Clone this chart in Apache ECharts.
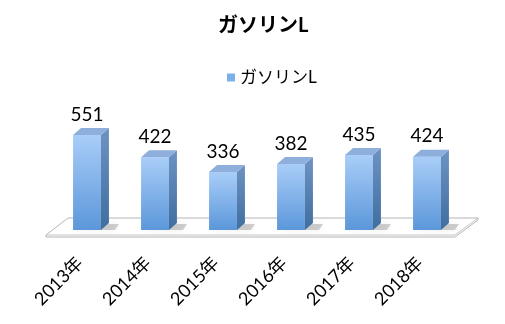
<!DOCTYPE html>
<html>
<head>
<meta charset="utf-8">
<script src="https://cdn.jsdelivr.net/npm/echarts@6/dist/echarts.min.js"></script>
<style>html,body{margin:0;padding:0;background:#fff}#c{width:505px;height:324px}</style>
</head>
<body>
<div id="c"></div>
<script>
const titleText = 'ガソリンL';
const seriesName = 'ガソリンL';
const categories = ['2013年', '2014年', '2015年', '2016年', '2017年', '2018年'];
const values = [551, 422, 336, 382, 435, 424];

const FONT = "Lato, 'Noto Sans CJK JP', sans-serif";
const chart = echarts.init(document.getElementById('c'));

const frontGrad = new echarts.graphic.LinearGradient(0, 0, 0, 1, [
  {offset: 0, color: '#a9cdf8'}, {offset: 1, color: '#5b97da'}]);
const sideGrad = new echarts.graphic.LinearGradient(0, 0, 0, 1, [
  {offset: 0, color: '#6d93c4'}, {offset: 1, color: '#3f6e9f'}]);

function renderBar(params, api) {
  const xi = api.value(0);
  const base = api.coord([xi, 0]);
  const topP = api.coord([xi, api.value(1)]);
  const band = api.size([1, 0])[0];
  const w = band * 0.41;
  const cx = base[0], y0 = base[1], y1 = topP[1];
  const l = cx - w / 2, r = cx + w / 2;
  const dx = 8, dy = 7;
  return {
    type: 'group',
    children: [
      {type: 'polygon', shape: {points: [[l + 4, y0], [r + dx + 6, y0], [r + dx + 10, y0 - dy + 1], [l + 8, y0 - dy + 1]]},
        style: {fill: 'rgba(0,0,0,0.18)', shadowBlur: 7, shadowColor: 'rgba(0,0,0,0.35)'}, z2: 1},
      {type: 'rect', shape: {x: l, y: y1, width: w, height: y0 - y1}, style: {fill: frontGrad}, z2: 3},
      {type: 'polygon', shape: {points: [[r, y1], [r + dx, y1 - dy], [r + dx, y0 - dy], [r, y0]]}, style: {fill: sideGrad}, z2: 3},
      {type: 'polygon', shape: {points: [[l, y1], [l + dx, y1 - dy], [r + dx, y1 - dy], [r, y1]]}, style: {fill: '#8eaedb'}, z2: 3},
      {type: 'text', x: cx, y: y1 - dy - 4, style: {text: String(api.value(1)), font: '19px ' + FONT, fill: '#000', align: 'center', verticalAlign: 'bottom'}, z2: 4}
    ]
  };
}

function renderFloor(params, api) {
  const cs = params.coordSys;
  const L = cs.x, R = cs.x + cs.width, B = cs.y + cs.height;
  const fl = [L - 7, B + 5], fr = [R - 6, B + 5], br = [R + 17, B - 12], bl = [L + 15, B - 12];
  return {
    type: 'group',
    children: [
      {type: 'polygon', shape: {points: [fl, [fl[0], fl[1] + 2], [fr[0], fr[1] + 2], [br[0], br[1] + 2], br, bl]},
        style: {fill: '#ffffff', stroke: '#b4b4b4', lineWidth: 1}},
      {type: 'polyline', shape: {points: [fl, fr, br]}, style: {stroke: '#c4c4c4', lineWidth: 1, fill: null}}
    ]
  };
}

chart.setOption({
  animation: false,
  title: {text: titleText, left: 213, top: 11, textStyle: {fontFamily: FONT, fontSize: 20, fontWeight: 'bold', color: '#000'}},
  legend: {data: [{name: seriesName, icon: 'rect'}], left: 222, top: 64, itemWidth: 8, itemHeight: 8,
    textStyle: {fontFamily: FONT, fontSize: 17, color: '#000'}},
  grid: {left: 53, right: 44, top: 126.5, bottom: 94},
  xAxis: {type: 'category', data: categories, axisLine: {show: false}, axisTick: {show: false},
    axisLabel: {rotate: 45, margin: 23, padding: [0, 10, 0, 0], fontFamily: FONT, fontSize: 18, color: '#000', interval: 0}},
  yAxis: {type: 'value', min: 0, max: 600, show: false, splitLine: {show: false}},
  series: [
    {type: 'custom', name: 'floor', renderItem: renderFloor, data: [[0, 0]], z: 1, silent: true, tooltip: {show: false}},
    {type: 'custom', name: seriesName, renderItem: renderBar, data: values.map((v, i) => [i, v]), z: 2,
      itemStyle: {color: '#7aafea'}, encode: {x: 0, y: 1}}
  ]
});
</script>
</body>
</html>
